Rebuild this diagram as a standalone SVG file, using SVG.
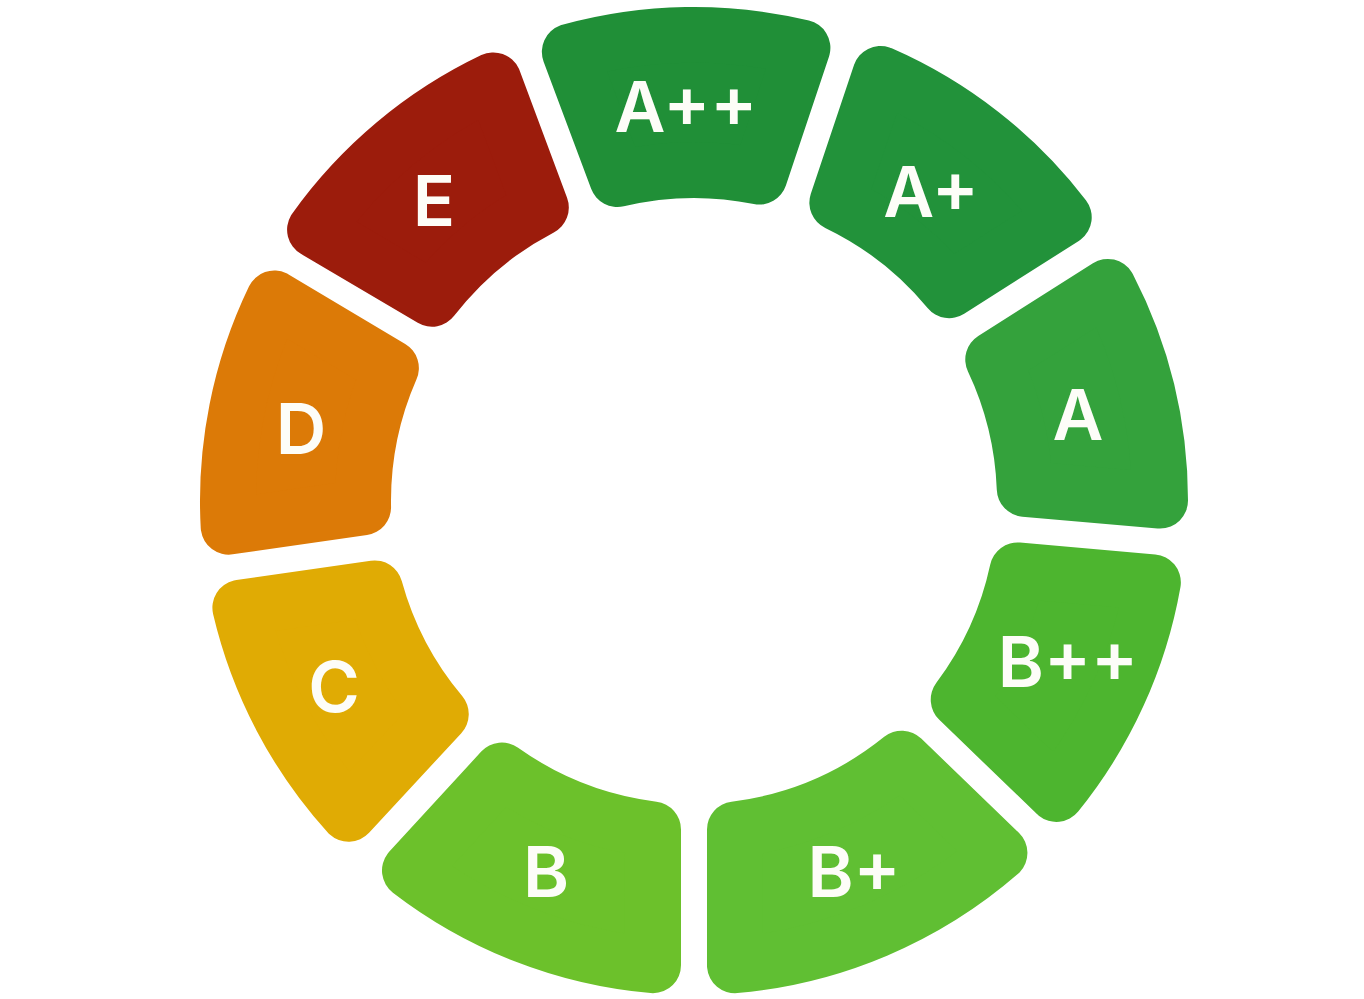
<svg xmlns="http://www.w3.org/2000/svg" width="1364" height="999" viewBox="0 0 1364 999">
<style>
.seg{stroke-width:56;stroke-linejoin:round}
.lbl{font-family:Inter,"Liberation Sans",sans-serif;font-weight:600;font-size:70px;fill:#fdfdf8;text-anchor:middle}
</style>
<defs>
<path id="s195" d="M-116.30,-451.26 A466,466 0 0 1 116.30,-451.26 L70.99,-323.30 A331,331 0 0 0 -70.99,-323.30 Z"/>
<path id="s187" d="M-109.99,-452.84 A466,466 0 0 1 109.99,-452.84 L66.47,-324.25 A331,331 0 0 0 -66.47,-324.25 Z"/>
<path id="s230" d="M-143.63,-443.32 A466,466 0 0 1 143.63,-443.32 L90.60,-318.36 A331,331 0 0 0 -90.60,-318.36 Z"/>
<path id="s213" d="M-130.42,-447.38 A466,466 0 0 1 130.42,-447.38 L81.11,-320.91 A331,331 0 0 0 -81.11,-320.91 Z"/>
</defs>
<rect width="1364" height="999" fill="#ffffff"/>
<g id="connectors"></g>
<g id="node-App">
<use href="#s195" class="seg" fill="#208f37" stroke="#208f37" transform="translate(694,501) rotate(-1)"/>
<text class="lbl" x="686" y="132">A++</text>
</g>
<g id="node-Ap">
<use href="#s195" class="seg" fill="#22923a" stroke="#22923a" transform="translate(694,501) rotate(38.05)"/>
<text class="lbl" x="931" y="217">A+</text>
</g>
<g id="node-A">
<use href="#s187" class="seg" fill="#34a23c" stroke="#34a23c" transform="translate(694,501) rotate(76.3)"/>
<text class="lbl" x="1078" y="440">A</text>
</g>
<g id="node-Bpp">
<use href="#s195" class="seg" fill="#4db52f" stroke="#4db52f" transform="translate(694,501) rotate(114.5)"/>
<text class="lbl" x="1068" y="687">B++</text>
</g>
<g id="node-Bp">
<use href="#s230" class="seg" fill="#60bf33" stroke="#60bf33" transform="translate(694,501) rotate(157)"/>
<text class="lbl" x="854" y="897">B+</text>
</g>
<g id="node-B">
<use href="#s213" class="seg" fill="#6cc12b" stroke="#6cc12b" transform="translate(694,501) rotate(201.3)"/>
<text class="lbl" x="546" y="897">B</text>
</g>
<g id="node-C">
<use href="#s195" class="seg" fill="#e0ab04" stroke="#e0ab04" transform="translate(694,501) rotate(242.3)"/>
<text class="lbl" x="334" y="712">C</text>
</g>
<g id="node-D">
<use href="#s195" class="seg" fill="#dc7a07" stroke="#dc7a07" transform="translate(694,501) rotate(281.3)"/>
<text class="lbl" x="301" y="454">D</text>
</g>
<g id="node-E">
<use href="#s195" class="seg" fill="#9c1c0c" stroke="#9c1c0c" transform="translate(694,501) rotate(320.05)"/>
<text class="lbl" x="434" y="226">E</text>
</g>
</svg>
